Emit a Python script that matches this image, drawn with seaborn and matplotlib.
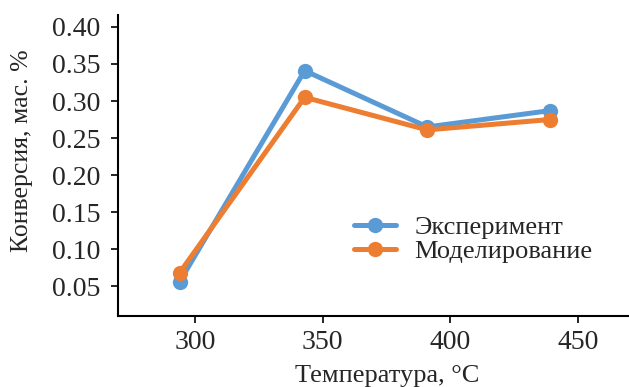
import matplotlib
matplotlib.use("Agg")
import matplotlib.pyplot as plt
import seaborn as sns
import pandas as pd

temperature = [294, 343, 391, 439]
experiment = [0.056, 0.341, 0.265, 0.287]
modeling = [0.068, 0.305, 0.261, 0.275]
series_names = ["Эксперимент", "Моделирование"]
colors = ["#5B9BD5", "#ED7D31"]
yticks = [0.05, 0.10, 0.15, 0.20, 0.25, 0.30, 0.35, 0.40]
xticks = [300, 350, 400, 450]

sns.set_style("ticks")
plt.rcParams["font.family"] = ["Liberation Serif", "DejaVu Serif"]

df = pd.DataFrame({
    "T": temperature * 2,
    "val": experiment + modeling,
    "series": [series_names[0]] * 4 + [series_names[1]] * 4,
})

fig = plt.figure(figsize=(6.29, 3.87), dpi=100)
ax = fig.add_axes([0.188, 0.183, 0.812, 0.778])
sns.lineplot(data=df, x="T", y="val", hue="series", palette=colors,
             marker="o", markersize=11, markeredgewidth=0, linewidth=3.6,
             ax=ax, legend=True)

ax.set_xlim(270, 470)
ax.set_ylim(0.0095, 0.416)
ax.set_xticks(xticks)
ax.set_yticks(yticks)
ax.set_yticklabels([f"{v:.2f}" for v in yticks])
ax.tick_params(axis="both", labelsize=20, length=5, width=1.2, direction="out", color="black")
ax.tick_params(axis="x", pad=5)
ax.tick_params(axis="y", pad=8)
for s in ["top", "right"]:
    ax.spines[s].set_visible(False)
for s in ["left", "bottom"]:
    ax.spines[s].set_linewidth(1.5)
    ax.spines[s].set_color("black")
ax.set_xlabel("Температура, °C", fontsize=19)
ax.xaxis.set_label_coords(0.526, -0.162)
ax.set_ylabel("Конверсия, мас. %", fontsize=18.5)
ax.yaxis.set_label_coords(-0.166, 0.548)

leg = ax.legend(title=None, frameon=False, fontsize=19, loc="center left",
                bbox_to_anchor=(0.44, 0.255), handlelength=1.6, labelspacing=0.0,
                handletextpad=0.7, borderaxespad=0)

fig.savefig("out.png", dpi=100)
